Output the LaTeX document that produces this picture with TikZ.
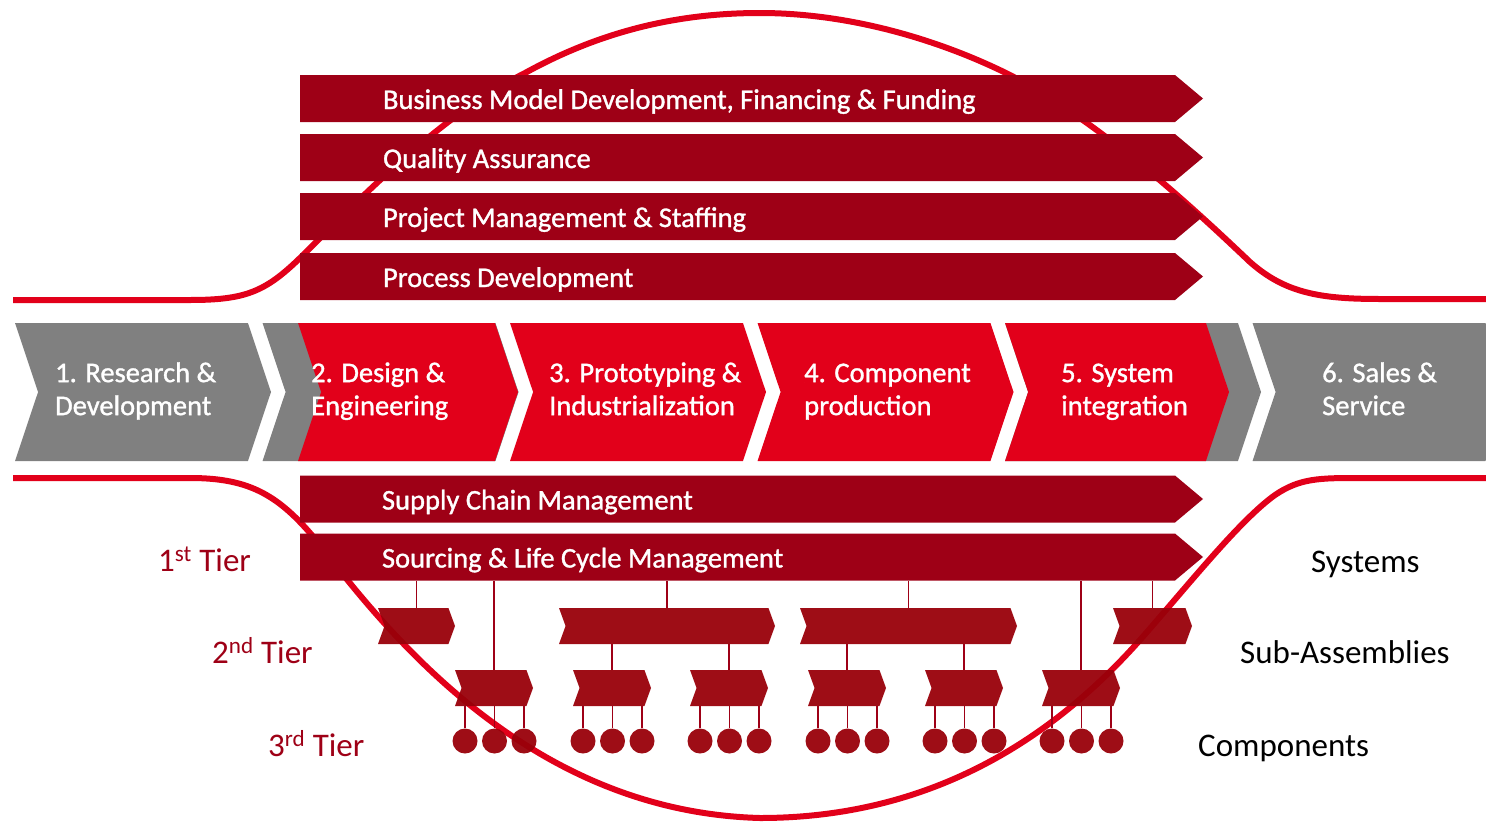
\documentclass[tikz,border=0pt]{standalone}
\usepackage{fontspec}
\setmainfont{Carlito}
\newfontfamily\whitefont[FakeBold=1.2]{Carlito}
\usepackage{xcolor}
\usetikzlibrary{shapes.symbols, positioning}
\definecolor{barred}{RGB}{158,0,22}
\definecolor{tierred}{RGB}{153,0,10}
\definecolor{stepred}{RGB}{226,0,26}
\definecolor{stepgray}{RGB}{128,128,128}

\tikzset{
  chevron/.style={signal, signal to=east, signal from=west, signal pointer angle=143,
    minimum height=138pt, minimum width=#1, inner sep=0pt, draw=none},
  bar/.style={signal, signal to=east, signal pointer angle=80,
    minimum height=47pt, minimum width=903pt, inner sep=0pt, fill=barred},
  tierbox/.style={signal, signal to=east, signal from=west, signal pointer angle=140,
    minimum height=36pt, minimum width=#1, inner sep=0pt, fill=tierred, fill opacity=0.95},
  part/.style={circle, fill=tierred, fill opacity=0.95, minimum size=25pt, inner sep=0pt},
  steptxt/.style={text=white, align=left, anchor=west, inner sep=0pt,
    font=\whitefont\fontsize{28.5}{33}\selectfont},
  bartxt/.style={text=white, anchor=base west, inner sep=0pt,
    font=\whitefont\fontsize{28.5}{33}\selectfont},
  tiertxt/.style={text=barred, anchor=base west, inner sep=0pt, font=\fontsize{33}{38}\selectfont},
  leveltxt/.style={text=black, anchor=base west, inner sep=0pt, font=\fontsize{33}{38}\selectfont},
  link/.style={draw=barred, line width=1.5pt},
  wave/.style={draw=stepred, line width=6pt},
}

\begin{document}
\begin{tikzpicture}[x=1pt, y=-1pt]
    \useasboundingbox (0,0) rectangle (1486,825);

    % the two red lines
    \draw[wave] (13,300) -- (190,300) .. controls (245,300) and (265,292) .. (300,258)
        .. controls (382,176) and (448,112) .. (525,73)
        .. controls (603,30) and (680,13) .. (760,13)
        .. controls (850,13) and (940,40) .. (1010,75)
        .. controls (1100,122) and (1190,205) .. (1250,262)
        .. controls (1285,293) and (1320,299) .. (1380,299) -- (1490,299);
    \draw[wave] (13,478) -- (190,478) .. controls (250,478) and (280,495) .. (320,545)
        .. controls (400,650) and (540,812) .. (760,818)
        .. controls (940,818) and (1060,730) .. (1140,640)
        .. controls (1190,583) and (1240,520) .. (1275,495)
        .. controls (1300,478) and (1320,478) .. (1360,478) -- (1490,478);

    % support bars
    \node[bar] (bmd) at (737.5,98.5) {};
    \node[bar] (qa)  at (737.5,157.5) {};
    \node[bar] (pms) at (737.5,216.5) {};
    \node[bar] (prd) at (737.5,276.5) {};
    \node[bar] (scm) at (737.5,499) {};
    \node[bar] (slc) at (737.5,557) {};
    \node[bartxt] at ([shift={(83,10.5)}]bmd.west) {Business Model Development, Financing \& Funding};
    \node[bartxt] at ([shift={(83,10.5)}]qa.west) {Quality Assurance};
    \node[bartxt] at ([shift={(83,10.5)}]pms.west) {Project Management \& Staffing};
    \node[bartxt] at ([shift={(83,10.5)}]prd.west) {Process Development};
    \node[bartxt] at ([shift={(82,10.5)}]scm.west) {Supply Chain Management};
    \node[bartxt] at ([shift={(82,10.5)}]slc.west) {Sourcing \& Life Cycle Management};

    % value chain
    \node[chevron=256pt, fill=stepgray] (s1) at (143,392) {};
    \node[chevron=256pt, fill=stepgray] (s2) at (390.5,392) {};
    \node[chevron=220pt, fill=stepred] (s2r) at (408,392) {};
    \node[chevron=256pt, fill=stepred] (s3) at (638,392) {};
    \node[chevron=256pt, fill=stepred] (s4) at (885.5,392) {};
    \node[chevron=256pt, fill=stepgray] (s5) at (1133,392) {};
    \node[chevron=224pt, fill=stepred] (s5r) at (1117,392) {};
    \node[chevron=256pt, fill=stepgray] (s6) at (1380.5,392) {};
    \node[steptxt] (l1) at (55,392) {\strut 1. Research \&\\\strut Development};
    \node[steptxt] (l2) at (311,392) {\strut 2. Design \&\\\strut Engineering};
    \node[steptxt] (l3) at (549,392) {\strut 3. Prototyping \&\\\strut Industrialization};
    \node[steptxt] (l4) at (804,392) {\strut 4. Component\\\strut production};
    \node[steptxt] (l5) at (1061,392) {\strut 5. System\\\strut integration};
    \node[steptxt] (l6) at (1322,392) {\strut 6. Sales \&\\\strut Service};

    % supplier tiers
    \node[tierbox=77pt] (t2a) at (416.5,626) {};
    \node[tierbox=216pt] (t2b) at (667,626) {};
    \node[tierbox=217pt] (t2c) at (908.5,626) {};
    \node[tierbox=79pt] (t2d) at (1152.5,626) {};
    \foreach \x [count=\i] in {494,612,729,847,964,1081} {
        \node[tierbox=78pt] (t3\i) at (\x,688) {};
        \foreach \dx [count=\j] in {-29,0.5,30} {
            \node[part] (c\i\j) at (\x+\dx,741) {};
            \draw[link] (c\i\j.north) -- (c\i\j.north |- t3\i.south);
        }
    }
    \foreach \n in {t2a,t2b,t2c,t2d,t31,t36}
        \draw[link] (\n.north) -- (\n.north |- slc.south);
    \foreach \n/\m in {t2b/t32,t2b/t33,t2c/t34,t2c/t35}
        \draw[link] (\m.north) -- (\m.north |- \n.south);

    \node[tiertxt] (k1) at (158,571) {1\textsuperscript{st} Tier};
    \node[tiertxt] (k2) at (212,663) {2\textsuperscript{nd} Tier};
    \node[tiertxt] (k3) at (268,756) {3\textsuperscript{rd} Tier};
    \node[leveltxt] (v1) at (1311,572) {Systems};
    \node[leveltxt] (v2) at (1240,663) {Sub-Assemblies};
    \node[leveltxt] (v3) at (1198,756) {Components};
\end{tikzpicture}
\end{document}
